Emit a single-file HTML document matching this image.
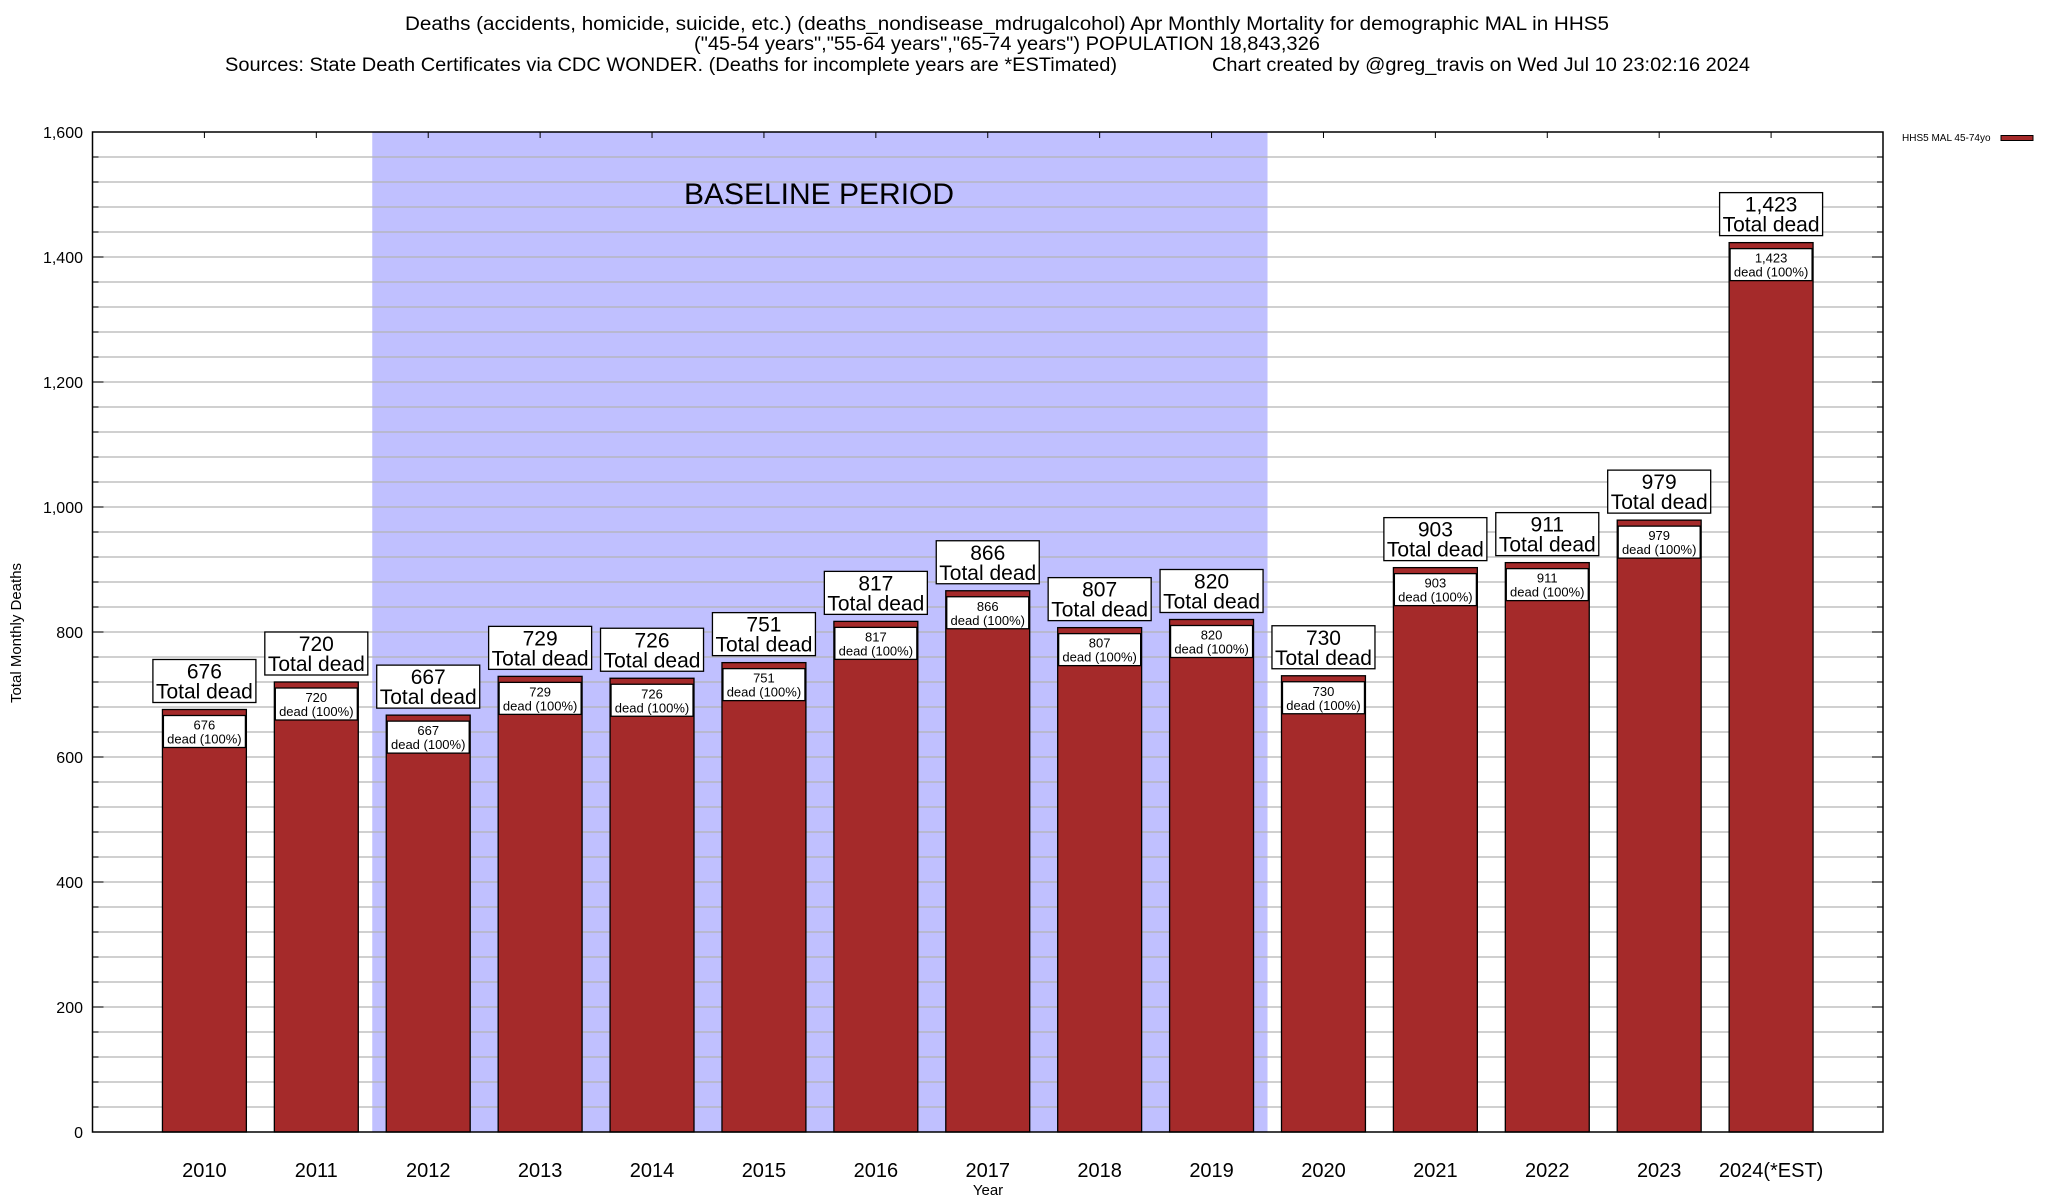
<!DOCTYPE html>
<html><head><meta charset="utf-8"><style>
html,body{margin:0;padding:0;background:#fff;}
svg{display:block;font-family:"Liberation Sans",Arial,sans-serif;}
</style></head><body>
<svg id="chart" width="2048" height="1200" viewBox="0 0 2048 1200">
<g font-size="19" text-anchor="middle" fill="#000">
<text x="1007" y="30" textLength="1204" lengthAdjust="spacingAndGlyphs">Deaths (accidents, homicide, suicide, etc.) (deaths_nondisease_mdrugalcohol) Apr Monthly Mortality for demographic MAL in HHS5</text>
<text x="1007" y="50" textLength="626" lengthAdjust="spacingAndGlyphs">("45-54 years","55-64 years","65-74 years") POPULATION 18,843,326</text>
<text x="671" y="71" textLength="892" lengthAdjust="spacingAndGlyphs">Sources: State Death Certificates via CDC WONDER. (Deaths for incomplete years are *ESTimated)</text>
<text x="1481" y="71" textLength="538" lengthAdjust="spacingAndGlyphs">Chart created by @greg_travis on Wed Jul 10 23:02:16 2024</text>
</g>
<g id="plot"></g>
<g>
<text x="1902" y="141" font-size="10">HHS5 MAL 45-74yo</text>
<rect x="2001" y="135.5" width="32" height="5" fill="#a52a2a" stroke="#000" stroke-width="1"/>
</g>
</svg>
<script>
const categories = ["2010","2011","2012","2013","2014","2015","2016","2017","2018","2019","2020","2021","2022","2023","2024(*EST)"];
const values = [676,720,667,729,726,751,817,866,807,820,730,903,911,979,1423];
const valueLabels = ["676","720","667","729","726","751","817","866","807","820","730","903","911","979","1,423"];
const yTicks = [0,200,400,600,800,1000,1200,1400,1600];
const yTickLabels = ["0","200","400","600","800","1,000","1,200","1,400","1,600"];
const baselineStart = 1.5, baselineEnd = 9.5;

const NS="http://www.w3.org/2000/svg";
const L=92.5,R=1883,T=132,B=1132,YMAX=1600;
const slot=(R-L)/16;
function x(i){return L+(i+1)*slot;}
function y(v){return B-(v/YMAX)*(B-T);}
const g=document.getElementById('plot');
function mk(tag,attrs,text){const e=document.createElementNS(NS,tag);for(const k in attrs)e.setAttribute(k,attrs[k]);if(text!==undefined)e.textContent=text;g.appendChild(e);return e;}

let band=mk('rect',{x:x(baselineStart),y:T,width:x(baselineEnd)-x(baselineStart),height:B-T,fill:'#c0c0ff'});


for(let v=40;v<YMAX;v+=40){
  let gl=mk('line',{x1:L,x2:R,y1:y(v),y2:y(v),stroke:'#b4b4b4','stroke-width':1.3});
  
  
  mk('line',{x1:L,x2:L+6,y1:y(v),y2:y(v),stroke:'#000','stroke-width':1});
  mk('line',{x1:R-6,x2:R,y1:y(v),y2:y(v),stroke:'#000','stroke-width':1});
}
let bl=mk('text',{x:819,y:204,'font-size':30,'text-anchor':'middle'},'BASELINE PERIOD');


yTicks.forEach((v,k)=>{
  mk('line',{x1:L,x2:L+11,y1:y(v),y2:y(v),stroke:'#000','stroke-width':1});
  mk('line',{x1:R-11,x2:R,y1:y(v),y2:y(v),stroke:'#000','stroke-width':1});
  let t=mk('text',{x:83,y:y(v)+6,'font-size':16,'text-anchor':'end'},yTickLabels[k]);
  
  
});
const bw=slot*0.75;
categories.forEach((c,i)=>{
  const cx=x(i), top=y(values[i]);
  mk('line',{x1:cx,x2:cx,y1:T,y2:T+6,stroke:'#000','stroke-width':1});
  let b=mk('rect',{x:cx-bw/2,y:top,width:bw,height:B-top,fill:'#a52a2a',stroke:'#000','stroke-width':1.3});
  
  
  let ib=mk('rect',{x:cx-41,y:top+6,width:82,height:32,fill:'#fff',stroke:'#000','stroke-width':1.3});
  
  
  let it1=mk('text',{x:cx,y:top+20,'font-size':13,'text-anchor':'middle'},valueLabels[i]);
  
  
  let it2=mk('text',{x:cx,y:top+34,'font-size':13,'text-anchor':'middle'},'dead (100%)');
  
  
  let ob=mk('rect',{x:cx-51.5,y:top-50,width:103,height:43,fill:'#fff',stroke:'#000','stroke-width':1.3});
  
  
  let ot1=mk('text',{x:cx,y:top-31,'font-size':21,'text-anchor':'middle'},valueLabels[i]);
  
  
  let ot2=mk('text',{x:cx,y:top-11,'font-size':21,'text-anchor':'middle'},'Total dead');
  
  
  let xl=mk('text',{x:cx,y:1177,'font-size':20,'text-anchor':'middle'},c);
  
  
});
let fr=mk('rect',{x:L,y:T,width:R-L,height:B-T,fill:'none',stroke:'#000','stroke-width':1.5});


let xt=mk('text',{x:988,y:1195,'font-size':15,'text-anchor':'middle'},'Year');


let yt=mk('text',{x:0,y:0,'font-size':15,'text-anchor':'middle',transform:'translate(21,633) rotate(-90)'},'Total Monthly Deaths');


</script>
</body></html>
